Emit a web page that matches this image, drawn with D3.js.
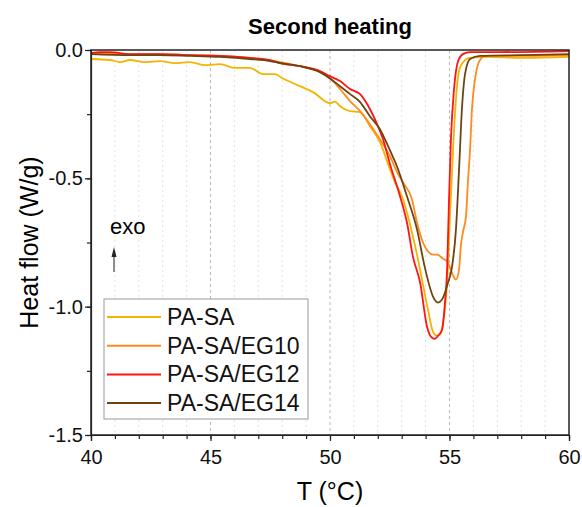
<!DOCTYPE html>
<html>
<head>
<meta charset="utf-8">
<script src="https://cdn.jsdelivr.net/npm/d3@7"></script>
<style>
  body { margin: 0; background: #fff; }
  svg { display: block; font-family: Arial, "Liberation Sans", sans-serif; }
</style>
</head>
<body>
<div id="chart"></div>
<script>
// [T (°C), heat flow (W/g)]
const paSa = [
  [40.00, -0.035], [40.79, -0.039], [41.21, -0.047], [41.63, -0.039], [42.26, -0.047],
  [42.89, -0.043], [43.51, -0.051], [44.14, -0.047], [44.77, -0.059], [45.40, -0.055],
  [46.03, -0.070], [46.65, -0.070], [47.20, -0.094], [47.70, -0.094], [47.99, -0.109],
  [48.74, -0.141], [49.29, -0.164], [50.00, -0.207], [50.21, -0.201], [50.42, -0.219],
  [50.84, -0.238], [51.26, -0.242], [51.67, -0.297], [52.09, -0.359], [52.51, -0.465],
  [52.72, -0.516], [53.01, -0.570], [53.22, -0.633], [53.43, -0.711], [53.64, -0.797],
  [53.89, -0.914], [54.10, -1.012], [54.31, -1.098], [54.48, -1.113], [54.60, -1.109],
  [54.73, -1.063], [54.90, -0.906], [55.02, -0.648], [55.15, -0.387], [55.27, -0.191],
  [55.40, -0.082], [55.61, -0.043], [55.86, -0.031], [56.69, -0.027], [57.95, -0.031],
  [60.00, -0.027]
];
const paSaEg10 = [
  [40.00, -0.012], [41.63, -0.016], [42.89, -0.016], [44.14, -0.020], [45.40, -0.023],
  [46.65, -0.031], [47.91, -0.047], [48.74, -0.063], [49.58, -0.086], [50.00, -0.109],
  [50.42, -0.152], [50.84, -0.199], [51.26, -0.238], [51.67, -0.289], [52.09, -0.348],
  [52.51, -0.414], [52.85, -0.484], [53.05, -0.516], [53.43, -0.582], [53.64, -0.672],
  [53.89, -0.750], [54.10, -0.785], [54.31, -0.797], [54.48, -0.797], [54.73, -0.813],
  [54.90, -0.824], [55.02, -0.848], [55.15, -0.879], [55.27, -0.895], [55.40, -0.855],
  [55.48, -0.758], [55.56, -0.711], [55.69, -0.648], [55.77, -0.516], [55.86, -0.387],
  [55.94, -0.230], [56.07, -0.113], [56.23, -0.047], [56.49, -0.023], [57.95, -0.023],
  [60.00, -0.020]
];
const paSaEg12 = [
  [40.00, -0.012], [40.38, -0.008], [40.79, -0.008], [41.63, -0.016], [42.89, -0.016],
  [44.14, -0.020], [45.40, -0.023], [46.65, -0.031], [47.49, -0.039], [47.91, -0.051],
  [48.74, -0.063], [49.58, -0.082], [50.00, -0.102], [50.42, -0.121], [50.84, -0.152],
  [51.26, -0.172], [51.67, -0.230], [51.97, -0.289], [52.22, -0.348], [52.51, -0.445],
  [52.93, -0.570], [53.22, -0.672], [53.47, -0.805], [53.77, -0.906], [54.06, -1.078],
  [54.27, -1.121], [54.39, -1.125], [54.52, -1.113], [54.69, -1.090], [54.81, -0.984],
  [54.90, -0.855], [54.98, -0.582], [55.06, -0.348], [55.19, -0.152], [55.36, -0.043],
  [55.56, -0.016], [55.86, -0.008], [57.11, -0.008], [60.00, -0.004]
];
const paSaEg14 = [
  [40.00, -0.016], [41.63, -0.020], [42.89, -0.020], [44.14, -0.023], [45.40, -0.027],
  [46.65, -0.035], [47.49, -0.043], [47.91, -0.051], [48.74, -0.063], [49.58, -0.086],
  [50.42, -0.141], [50.84, -0.172], [51.26, -0.203], [51.67, -0.258], [52.09, -0.309],
  [52.30, -0.348], [52.64, -0.418], [52.80, -0.453], [53.22, -0.570], [53.64, -0.699],
  [53.97, -0.848], [54.06, -0.883], [54.31, -0.961], [54.52, -0.984], [54.73, -0.965],
  [54.94, -0.906], [55.10, -0.848], [55.27, -0.699], [55.40, -0.465], [55.52, -0.230],
  [55.65, -0.094], [55.86, -0.035], [56.28, -0.023], [57.95, -0.020], [60.00, -0.016]
];

const seriesNames = ["PA-SA", "PA-SA/EG10", "PA-SA/EG12", "PA-SA/EG14"];
const seriesData = [paSa, paSaEg10, paSaEg12, paSaEg14];
const seriesColors = ["#F4B400", "#FF8A1E", "#FF1414", "#6E4511"];

const xTicks = [40, 45, 50, 55, 60];
const xMinorTicks = d3.range(40, 61, 1);
const yTicks = [0, -0.5, -1.0, -1.5];
const yMinorTicks = [0, -0.25, -0.5, -0.75, -1.0, -1.25, -1.5];

const W = 582, H = 507;
const margin = { top: 50, right: 13, bottom: 72, left: 91 };

const svg = d3.select("#chart").append("svg")
  .attr("width", W).attr("height", H);

const x = d3.scaleLinear().domain([40, 60]).range([margin.left, W - margin.right]);
const y = d3.scaleLinear().domain([-1.5, 0]).range([H - margin.bottom, margin.top]);

// grid: faint dotted on every degree, dashed on the majors
svg.append("g").selectAll("line")
  .data(xMinorTicks.filter(t => t % 5 !== 0))
  .join("line")
  .attr("x1", d => x(d)).attr("x2", d => x(d))
  .attr("y1", y(0)).attr("y2", y(-1.5))
  .attr("stroke", "#e2e2e2").attr("stroke-width", 1)
  .attr("stroke-dasharray", "2,3");

svg.append("g").selectAll("line")
  .data(xTicks.filter(t => t > 40 && t < 60))
  .join("line")
  .attr("x1", d => x(d)).attr("x2", d => x(d))
  .attr("y1", y(0)).attr("y2", y(-1.5))
  .attr("stroke", "#b8b8b8").attr("stroke-width", 1)
  .attr("stroke-dasharray", "3,3");

// curves
const line = d3.line().x(d => x(d[0])).y(d => y(d[1])).curve(d3.curveMonotoneX);
svg.append("g").selectAll("path")
  .data(seriesData)
  .join("path")
  .attr("d", line)
  .attr("fill", "none")
  .attr("stroke", (d, i) => seriesColors[i])
  .attr("stroke-width", 1.8)
  .attr("stroke-linejoin", "round");

// axes
svg.append("g")
  .attr("transform", `translate(0,${y(-1.5)})`)
  .call(d3.axisBottom(x).tickValues(xTicks).tickFormat(d3.format("d")).tickSize(6).tickPadding(9));
svg.append("g")
  .attr("transform", `translate(0,${y(-1.5)})`)
  .call(d3.axisBottom(x).tickValues(xMinorTicks).tickFormat("").tickSize(4))
  .call(g => g.select(".domain").remove());

svg.append("g")
  .attr("transform", `translate(${x(40)},0)`)
  .call(d3.axisLeft(y).tickValues(yTicks).tickFormat(d3.format(".1f")).tickSize(6).tickPadding(2));
svg.append("g")
  .attr("transform", `translate(${x(40)},0)`)
  .call(d3.axisLeft(y).tickValues(yMinorTicks).tickFormat("").tickSize(4))
  .call(g => g.select(".domain").remove());

svg.selectAll(".tick text")
  .attr("font-size", 20).attr("fill", "#111")
  .attr("font-family", "Arial, 'Liberation Sans', sans-serif")
  .text(function() { return this.textContent.replace("\u2212", "-"); });
svg.selectAll(".domain, .tick line").attr("stroke", "#222").attr("stroke-width", 1.2);

// frame top/right
svg.append("rect")
  .attr("x", x(40)).attr("y", y(0))
  .attr("width", x(60) - x(40)).attr("height", y(-1.5) - y(0))
  .attr("fill", "none").attr("stroke", "#222").attr("stroke-width", 1.5);

// titles
svg.append("text")
  .attr("x", (x(40) + x(60)) / 2).attr("y", 34)
  .attr("text-anchor", "middle").attr("font-size", 22).attr("font-weight", "bold")
  .text("Second heating");

svg.append("text")
  .attr("x", (x(40) + x(60)) / 2).attr("y", 500)
  .attr("text-anchor", "middle").attr("font-size", 25)
  .text("T (°C)");

svg.append("text")
  .attr("transform", `translate(38,${(y(0) + y(-1.5)) / 2}) rotate(-90)`)
  .attr("text-anchor", "middle").attr("font-size", 25)
  .text("Heat flow (W/g)");

// exo marker
svg.append("text")
  .attr("x", 110).attr("y", 234)
  .attr("font-size", 22)
  .text("exo");
svg.append("line")
  .attr("x1", 114).attr("x2", 114).attr("y1", 272).attr("y2", 254)
  .attr("stroke", "#222").attr("stroke-width", 1);
svg.append("path")
  .attr("d", "M114,247 L111.5,257 L116.5,257 Z")
  .attr("fill", "#222");

// legend
const legend = svg.append("g").attr("transform", "translate(104,299)");
legend.append("rect")
  .attr("width", 204).attr("height", 120)
  .attr("fill", "#fff").attr("stroke", "#999").attr("stroke-width", 1);
const rows = legend.selectAll("g.row")
  .data(seriesNames)
  .join("g")
  .attr("class", "row")
  .attr("transform", (d, i) => `translate(0,${18 + i * 28.7})`);
rows.append("line")
  .attr("x1", 3).attr("x2", 57)
  .attr("stroke", (d, i) => seriesColors[i]).attr("stroke-width", 2);
rows.append("text")
  .attr("x", 63).attr("y", 8)
  .attr("font-size", 23).attr("fill", "#111")
  .text(d => d);
</script>
</body>
</html>
